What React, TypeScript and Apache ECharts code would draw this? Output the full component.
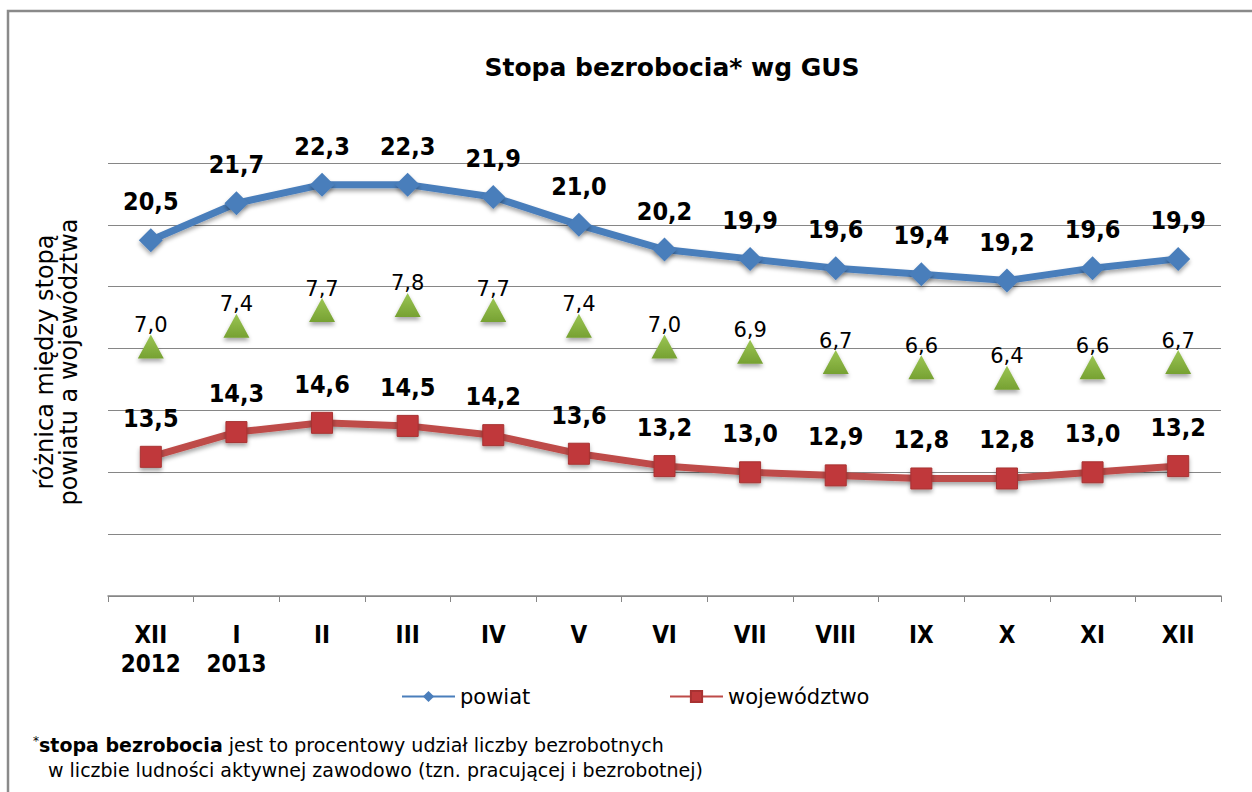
import React, { useEffect, useRef } from "react";
import * as echarts from "echarts";

const categories = ["XII\n2012", "I\n2013", "II", "III", "IV", "V", "VI", "VII", "VIII", "IX", "X", "XI", "XII"];
const powiat = [20.5, 21.7, 22.3, 22.3, 21.9, 21.0, 20.2, 19.9, 19.6, 19.4, 19.2, 19.6, 19.9];
const wojewodztwo = [13.5, 14.3, 14.6, 14.5, 14.2, 13.6, 13.2, 13.0, 12.9, 12.8, 12.8, 13.0, 13.2];
const roznica = [7.0, 7.4, 7.7, 7.8, 7.7, 7.4, 7.0, 6.9, 6.7, 6.6, 6.4, 6.6, 6.7];

const FONT = "DejaVu Sans";
const COND = "'DejaVu Sans Condensed', 'DejaVu Sans'";
const fmt = (p: any) => Number(p.value).toFixed(1).replace(".", ",");
const shadow = { shadowColor: "rgba(0,0,0,0.35)", shadowBlur: 4, shadowOffsetY: 3 };

export default function App() {
  const ref = useRef<HTMLDivElement>(null);
  useEffect(() => {
    const chart = echarts.init(ref.current!, null, { renderer: "svg" });
    chart.setOption({
      animation: false,
      backgroundColor: "#ffffff",
      title: {
        text: "Stopa bezrobocia* wg GUS",
        left: 667,
        top: 50,
        textAlign: "center",
        textStyle: { fontFamily: FONT, fontSize: 25, fontWeight: "bold", color: "#000" },
      },
      legend: [
        {
          data: ["powiat"],
          left: 396,
          top: 681,
          itemWidth: 53,
          itemHeight: 14,
          textStyle: { fontFamily: FONT, fontSize: 21, color: "#000" },
        },
        {
          data: ["województwo"],
          left: 664,
          top: 681,
          itemWidth: 53,
          itemHeight: 14,
          textStyle: { fontFamily: FONT, fontSize: 21, color: "#000" },
        },
      ],
      grid: { left: 108, right: 31, top: 163, height: 433 },
      xAxis: {
        type: "category",
        data: categories,
        boundaryGap: true,
        axisLine: { lineStyle: { color: "#868686", width: 1.5 } },
        axisTick: { show: true, length: 6, lineStyle: { color: "#868686" } },
        axisLabel: {
          fontFamily: COND,
          fontSize: 24,
          fontWeight: "bold",
          color: "#000",
          lineHeight: 29,
          margin: 24,
          interval: 0,
        },
      },
      yAxis: [
        {
          type: "value",
          min: 9,
          max: 23,
          interval: 2,
          axisLabel: { show: false },
          axisLine: { show: false },
          axisTick: { show: false },
          splitLine: { lineStyle: { color: "#868686", width: 1 } },
        },
        {
          type: "value",
          min: 2.2,
          max: 10.53,
          axisLabel: { show: false },
          axisLine: { show: false },
          axisTick: { show: false },
          splitLine: { show: false },
        },
      ],
      series: [
        {
          name: "powiat",
          type: "line",
          data: powiat,
          yAxisIndex: 0,
          symbol: "diamond",
          symbolSize: 24,
          lineStyle: { color: "#4a7ebb", width: 7, ...shadow },
          itemStyle: { color: "#4a7ebb", ...shadow },
          label: {
            show: true,
            position: "top",
            distance: 14,
            formatter: fmt,
            fontFamily: COND,
            fontSize: 25,
            fontWeight: "bold",
            color: "#000",
          },
        },
        {
          name: "województwo",
          type: "line",
          data: wojewodztwo,
          yAxisIndex: 0,
          symbol: "rect",
          symbolSize: 21,
          lineStyle: { color: "#be4b48", width: 7, ...shadow },
          itemStyle: { color: "#c0393b", borderColor: "#a83232", borderWidth: 1, ...shadow },
          label: {
            show: true,
            position: "top",
            distance: 15,
            formatter: fmt,
            fontFamily: COND,
            fontSize: 25,
            fontWeight: "bold",
            color: "#000",
          },
        },
        {
          name: "różnica",
          type: "line",
          data: roznica,
          yAxisIndex: 1,
          symbol: "triangle",
          symbolSize: [26, 24],
          lineStyle: { width: 0, opacity: 0 },
          itemStyle: {
            color: new echarts.graphic.LinearGradient(0, 0, 0, 1, [
              { offset: 0, color: "#9bc553" },
              { offset: 1, color: "#76a132" },
            ]),
            ...shadow,
          },
          label: {
            show: true,
            position: "top",
            distance: -1,
            formatter: fmt,
            fontFamily: FONT,
            fontSize: 21,
            color: "#000",
          },
        },
      ],
      graphic: [
        {
          type: "rect",
          shape: { x: 8, y: 11, width: 1300, height: 850 },
          style: { fill: "none", stroke: "#8a8a8a", lineWidth: 2.5 },
          silent: true,
        },
        {
          type: "text",
          x: 57,
          y: 362,
          rotation: Math.PI / 2,
          style: {
            text: "różnica między stopą\npowiatu a województwa",
            fontFamily: FONT,
            fontSize: 24,
            lineHeight: 24,
            fill: "#000",
            align: "center",
            verticalAlign: "middle",
          },
        },
        {
          type: "text",
          x: 33,
          y: 735,
          style: {
            text: "{s|*}{b|stopa bezrobocia} jest to procentowy udział liczby bezrobotnych",
            fontFamily: FONT,
            fontSize: 19,
            fill: "#000",
            rich: {
              s: { fontFamily: FONT, fontSize: 12, padding: [0, 0, 8, 0], fill: "#000" },
              b: { fontFamily: FONT, fontSize: 19, fontWeight: "bold", fill: "#000" },
            },
          },
        },
        {
          type: "text",
          x: 48,
          y: 760,
          style: {
            text: "w liczbie ludności aktywnej zawodowo (tzn. pracującej i bezrobotnej)",
            fontFamily: FONT,
            fontSize: 19,
            fill: "#000",
          },
        },
      ],
    });
    return () => chart.dispose();
  }, []);
  return (
    <div
      ref={ref}
      style={{ position: "fixed", left: 0, top: 0, width: 1252, height: 792, background: "#fff" }}
    />
  );
}
